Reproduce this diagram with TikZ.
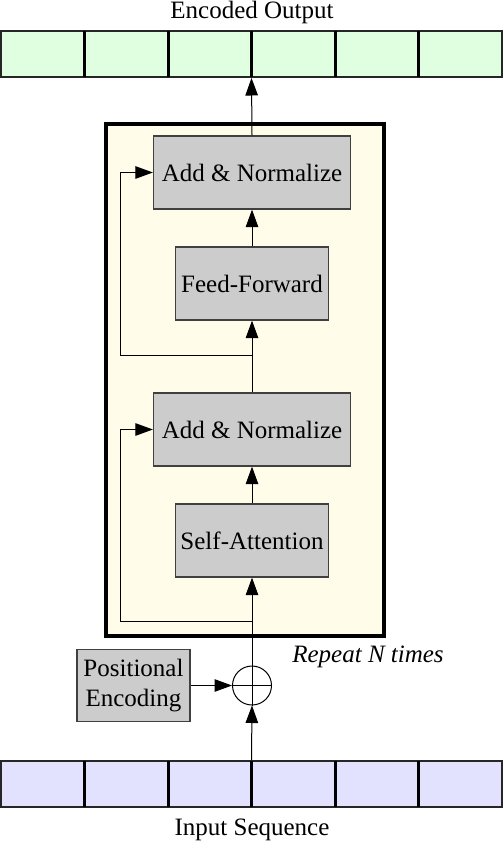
\documentclass[tikz,border=0pt]{standalone}
\usepackage{fontspec}
\setmainfont{Liberation Serif}
\usetikzlibrary{arrows.meta}

\definecolor{outgreen}{RGB}{224,255,224}
\definecolor{inblue}{RGB}{226,226,255}
\definecolor{repeatcream}{RGB}{255,252,234}
\definecolor{layergray}{RGB}{204,204,204}

\tikzset{
  layer/.style={draw=black!75, fill=layergray, line width=0.5pt, minimum height=29.2pt, inner sep=0pt},
  seqbar/.style={draw=black!85, line width=0.8pt, minimum width=200.4pt, minimum height=18.4pt, inner sep=0pt},
  flow/.style={-{Triangle[length=7pt,width=5pt]}},
}

\begin{document}
\begin{tikzpicture}[x=0.4pt, y=-0.4pt]
        \useasboundingbox (0,0) rectangle (504,844);

        % Output and input sequences
        \node[seqbar, fill=outgreen] (output) at (251.5,54) {};
        \node (outlabel) at (252,12) {Encoded Output};
        \node[seqbar, fill=inblue] (input) at (251.5,784) {};
        \node (inlabel) at (252,830) {Input Sequence};
        \foreach \i in {1,2,3,4,5} {
            \draw[line width=1.2pt] (1+\i*83.5,31) -- (1+\i*83.5,77);
            \draw[line width=1.2pt] (1+\i*83.5,761) -- (1+\i*83.5,807);
        }

        % Repeated block
        \node[draw, line width=1.6pt, fill=repeatcream, minimum width=111.2pt, minimum height=204.8pt, inner sep=0pt] (block) at (245,380) {};
        \node (repeat) at (368,657) {\textit{Repeat N times}};

        % Layers
        \node[layer, minimum width=78.8pt] (addtwo) at (252,172.5) {Add \& Normalize};
        \node[layer, minimum width=61.2pt] (ffn) at (252,283.5) {Feed-Forward};
        \node[layer, minimum width=78.8pt] (addone) at (252,429.5) {Add \& Normalize};
        \node[layer, minimum width=61.2pt] (attn) at (252,540.5) {Self-Attention};

        % Positional encoding
        \node[layer, minimum width=45.2pt, minimum height=28.8pt, align=center] (posenc) at (133.5,685.5) {Positional\\Encoding};
        \node[draw, circle, minimum size=15.6pt, inner sep=0pt] (plus) at (252,685.5) {};
        \draw (plus.north) -- (plus.south) (plus.west) -- (plus.east);

        % Main flow
        \draw[flow] (input.north) -- (plus.south);
        \draw[flow] (posenc.east) -- (plus.west);
        \draw[flow] (plus.north) -- (attn.south);
        \draw[flow] (attn.north) -- (addone.south);
        \draw[flow] (addone.north) -- (ffn.south);
        \draw[flow] (ffn.north) -- (addtwo.south);
        \draw[flow] (addtwo.north) -- (output.south);

        % Residual connections
        \coordinate (branchone) at (252,621);
        \coordinate (branchtwo) at (252,356);
        \draw[flow] (branchone) -- (120,621) |- (addone.west);
        \draw[flow] (branchtwo) -- (120,356) |- (addtwo.west);

\end{tikzpicture}
\end{document}
